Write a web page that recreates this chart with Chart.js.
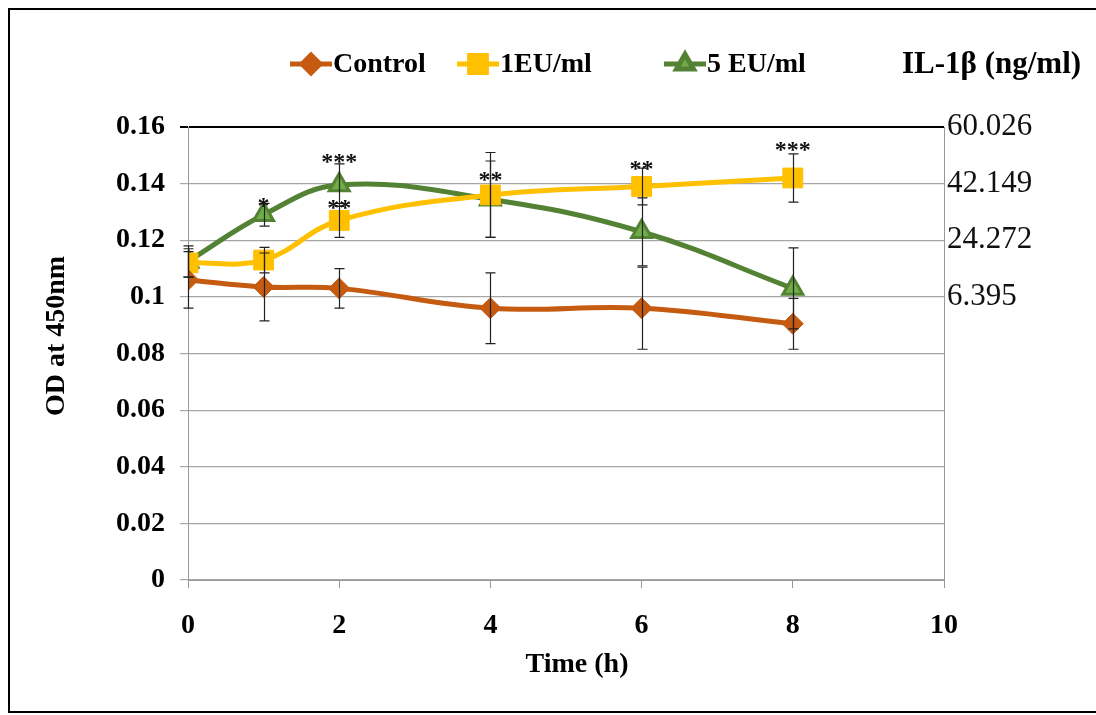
<!DOCTYPE html>
<html>
<head>
<meta charset="utf-8">
<script src="https://cdn.jsdelivr.net/npm/chart.js@4.4.0/dist/chart.umd.min.js"></script>
<style>
  html, body { margin: 0; padding: 0; background: #fff; }
</style>
</head>
<body>
<canvas id="odChart" width="1096" height="715"></canvas>
<script>
"use strict";

// time points (h) and OD readings
var times = [0, 1, 2, 4, 6, 8];
var controlOD = [0.106, 0.1035, 0.103, 0.096, 0.096, 0.0905];
var controlErr = [0.010, 0.012, 0.007, 0.0125, 0.0145, 0.009];
var eu1OD = [0.112, 0.113, 0.127, 0.136, 0.139, 0.142];
var eu1Err = [0.005, 0.0045, 0.006, 0.015, 0.0065, 0.0085];
var eu5OD = [0.1125, 0.129, 0.1395, 0.1345, 0.123, 0.103];
var eu5Err = [0.0055, 0.004, 0.0075, 0.0135, 0.012, 0.0143];

// right hand IL-1b axis
var il1bTickValues = [0.16, 0.14, 0.12, 0.10];
var il1bTickLabels = ['60.026', '42.149', '24.272', '6.395'];

// significance marks
var starTimes = [1, 2, 2, 4, 6, 8];
var starLevels = [0.134, 0.1495, 0.133, 0.143, 0.147, 0.1535];
var starTexts = ['*', '***', '**', '**', '**', '***'];

var SERIF = "'Liberation Serif', 'Times New Roman', serif";

function points(ys) {
    return times.map(function (t, i) { return { x: t, y: ys[i] }; });
}

var frame = {
    id: 'frame',
    beforeDraw: function (chart) {
        var ctx = chart.ctx;
        ctx.save();
        ctx.fillStyle = '#fff';
        ctx.fillRect(0, 0, chart.width, chart.height);
        ctx.strokeStyle = '#000';
        ctx.lineWidth = 2;
        ctx.strokeRect(9, 9, chart.width + 10, chart.height - 12);
        ctx.restore();
    }
};

var errorBars = {
    id: 'errorBars',
    afterDatasetsDraw: function (chart) {
        var ctx = chart.ctx;
        var xs = chart.scales.x, ys = chart.scales.y;
        ctx.save();
        ctx.strokeStyle = '#222';
        ctx.lineWidth = 1.2;
        chart.data.datasets.forEach(function (ds) {
            ds.data.forEach(function (p, i) {
                var px = Math.round(xs.getPixelForValue(p.x)) + 0.5;
                var top = ys.getPixelForValue(p.y + ds.errors[i]);
                var bot = ys.getPixelForValue(p.y - ds.errors[i]);
                ctx.beginPath();
                ctx.moveTo(px, top); ctx.lineTo(px, bot);
                ctx.moveTo(px - 5, top); ctx.lineTo(px + 5, top);
                ctx.moveTo(px - 5, bot); ctx.lineTo(px + 5, bot);
                ctx.stroke();
            });
        });
        ctx.restore();
    }
};

var stars = {
    id: 'stars',
    afterDatasetsDraw: function (chart) {
        var ctx = chart.ctx;
        var xs = chart.scales.x, ys = chart.scales.y;
        ctx.save();
        ctx.fillStyle = '#111';
        ctx.font = 'bold 24px ' + SERIF;
        ctx.textAlign = 'center';
        ctx.textBaseline = 'alphabetic';
        starTimes.forEach(function (t, i) {
            ctx.fillText(starTexts[i], xs.getPixelForValue(t), ys.getPixelForValue(starLevels[i]) + 12);
        });
        ctx.restore();
    }
};

// axis titles sit a little off-centre in the original, so draw them by hand
var axisTitles = {
    id: 'axisTitles',
    afterDraw: function (chart) {
        var ctx = chart.ctx;
        ctx.save();
        ctx.fillStyle = '#000';
        ctx.font = 'bold 28px ' + SERIF;
        ctx.textAlign = 'center';
        ctx.textBaseline = 'middle';
        ctx.fillText('Time (h)', 577, 665);
        ctx.translate(57, 336);
        ctx.rotate(-Math.PI / 2);
        ctx.fillText('OD at 450nm', 0, 0);
        ctx.restore();
    }
};

var topLegend = {
    id: 'topLegend',
    afterDraw: function (chart) {
        var ctx = chart.ctx;
        var starts = [290, 457, 664];
        var y = 64;
        ctx.save();
        chart.data.datasets.forEach(function (ds, i) {
            var x0 = starts[i];
            ctx.strokeStyle = ds.borderColor;
            ctx.lineWidth = 5;
            ctx.beginPath();
            ctx.moveTo(x0, y); ctx.lineTo(x0 + 42, y);
            ctx.stroke();
            ctx.fillStyle = ds.pointBackgroundColor;
            ctx.strokeStyle = ds.pointBorderColor;
            Chart.helpers.drawPoint(ctx, {
                pointStyle: ds.pointStyle,
                radius: ds.pointRadius * 0.85,
                rotation: 0,
                borderWidth: ds.pointBorderWidth
            }, x0 + 21, y);
            ctx.fillStyle = '#000';
            ctx.font = 'bold 28px ' + SERIF;
            ctx.textBaseline = 'middle';
            ctx.textAlign = 'left';
            ctx.fillText(ds.label, x0 + 43, y + 1);
        });
        ctx.font = 'bold 31px ' + SERIF;
        ctx.fillText('IL-1\u03b2 (ng/ml)', 902, y + 1);
        ctx.restore();
    }
};

var ctx1 = document.getElementById('odChart').getContext('2d');
var odChart = new Chart(ctx1, {
    type: 'line',
    data: {
        datasets: [{
            label: 'Control',
            data: points(controlOD),
            errors: controlErr,
            borderColor: '#C55A11',
            borderWidth: 5,
            pointStyle: 'rectRot',
            pointRadius: 10.5,
            pointBackgroundColor: '#C55A11',
            pointBorderColor: '#C55A11',
            pointBorderWidth: 1,
            tension: 0.4
        }, {
            label: '1EU/ml',
            data: points(eu1OD),
            errors: eu1Err,
            borderColor: '#FFC000',
            borderWidth: 5,
            pointStyle: 'rect',
            pointRadius: 14,
            pointBackgroundColor: '#FFC000',
            pointBorderColor: '#FFC000',
            pointBorderWidth: 1,
            tension: 0.4
        }, {
            label: '5 EU/ml',
            data: points(eu5OD),
            errors: eu5Err,
            borderColor: '#548235',
            borderWidth: 5,
            pointStyle: 'triangle',
            pointRadius: 11.5,
            pointBackgroundColor: '#70AD47',
            pointBorderColor: '#548235',
            pointBorderWidth: 3,
            tension: 0.4
        }]
    },
    options: {
        responsive: false,
        animation: false,
        layout: { padding: { top: 127, left: 0, right: 0, bottom: 0 } },
        plugins: {
            legend: { display: false },
            tooltip: { enabled: false }
        },
        scales: {
            x: {
                type: 'linear',
                min: 0,
                max: 10,
                ticks: { stepSize: 2, padding: 21, color: '#000', font: { family: SERIF, size: 28, weight: 'bold' } },
                grid: { drawOnChartArea: false, tickLength: 8, color: '#999' },
                border: { color: '#999' },
                afterFit: function (s) { s.height = 135; }
            },
            y: {
                min: 0,
                max: 0.16,
                ticks: {
                    stepSize: 0.02,
                    padding: 15,
                    color: '#000',
                    font: { family: SERIF, size: 28, weight: 'bold' },
                    callback: function (v) { return String(+v.toFixed(2)); }
                },
                grid: {
                    tickLength: 8,
                    color: function (c) { return c.tick && Math.abs(c.tick.value - 0.16) < 1e-9 ? '#000' : '#a6a6a6'; },
                    lineWidth: function (c) { return c.tick && Math.abs(c.tick.value - 0.16) < 1e-9 ? 2 : 1.2; }
                },
                border: { color: '#999' },
                afterFit: function (s) { s.width = 188; }
            },
            y1: {
                position: 'right',
                min: 0,
                max: 0.16,
                afterBuildTicks: function (s) {
                    s.ticks = il1bTickValues.map(function (v) { return { value: v }; });
                },
                ticks: {
                    padding: 3,
                    color: '#111',
                    font: { family: SERIF, size: 31 },
                    callback: function (v) {
                        var i = il1bTickValues.findIndex(function (t) { return Math.abs(t - v) < 1e-9; });
                        return i < 0 ? '' : il1bTickLabels[i];
                    }
                },
                grid: { drawOnChartArea: false, drawTicks: false },
                border: { color: '#999' },
                afterFit: function (s) { s.width = 152; }
            }
        }
    },
    plugins: [frame, errorBars, stars, axisTitles, topLegend]
});
</script>
</body>
</html>
